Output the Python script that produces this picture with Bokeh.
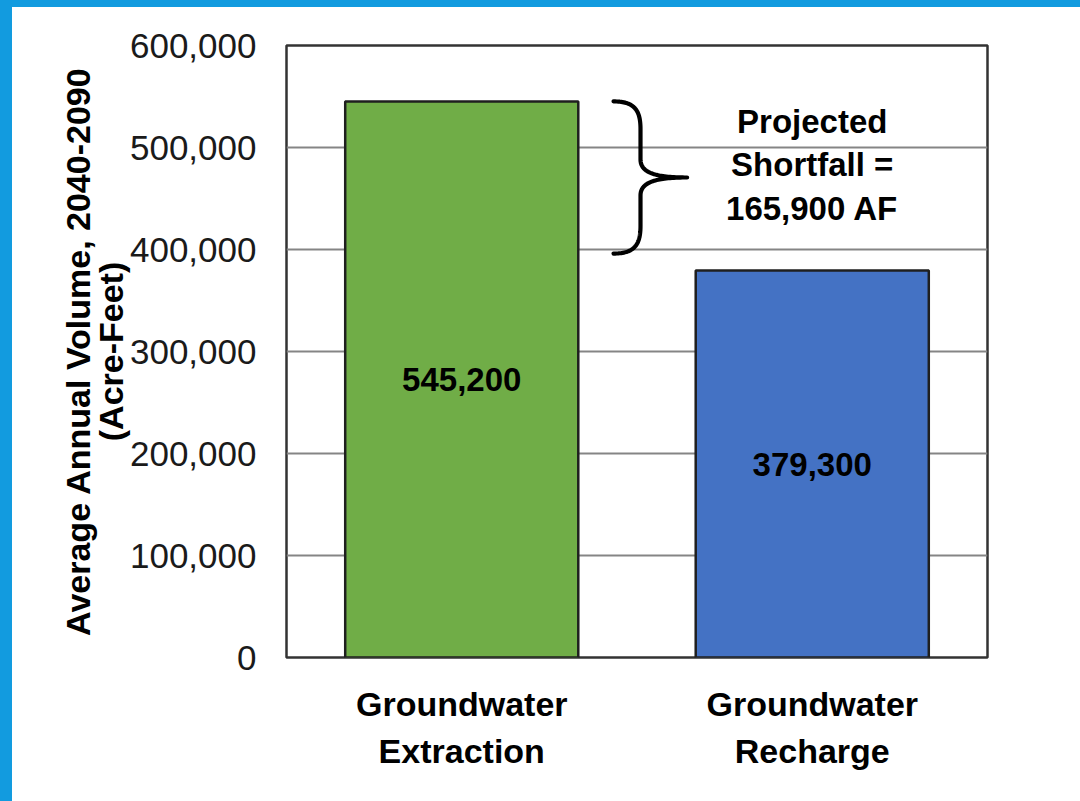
import numpy as np
from bokeh.plotting import figure
from bokeh.models import (NumeralTickFormatter, FixedTicker, Range1d, Div, ColumnDataSource,
                          CategoricalAxis, CustomJSTickFormatter)
from bokeh.layouts import column
from bokeh.core.properties import value
from bokeh.embed import file_html
from bokeh.resources import INLINE

# ---- data ----
categories = ["Groundwater Extraction", "Groundwater Recharge"]
category_line1 = ["Groundwater", "Groundwater"]
category_line2 = ["Extraction", "Recharge"]
volumes = [545200, 379300]
bar_colors = ["#70AD47", "#4472C4"]
y_ticks = [0, 100000, 200000, 300000, 400000, 500000, 600000]
shortfall = volumes[0] - volumes[1]
annotation_lines = ["Projected", "Shortfall =", f"{shortfall:,} AF"]
brace_top_value = volumes[0]
brace_bottom_value = 396000  # lower end of brace as drawn in the picture

FONT = "Liberation Sans"

p = figure(x_range=categories, y_range=Range1d(0, 600000),
           width=1072, height=793, output_backend="svg", toolbar_location=None,
           min_border_left=286, min_border_right=85, min_border_top=45, min_border_bottom=136,
           background_fill_color="white", border_fill_color="white")

src = ColumnDataSource(dict(x=categories, top=volumes, color=bar_colors,
                            label=[f"{v:,}" for v in volumes],
                            mid=[v / 2 for v in volumes]))
p.vbar(x="x", top="top", width=0.665, fill_color="color", line_color="#1f1f1f",
       line_width=2.5, source=src)
p.text(x="x", y="mid", text="label", source=src, text_font=value(FONT),
       text_font_style="bold", text_font_size="33px", text_align="center",
       text_baseline="middle", text_color="black")

# ---- brace ----
def bez(p0, p1, p2, p3, n=40):
    t = np.linspace(0, 1, n)[:, None]
    pts = ((1 - t) ** 3) * np.array(p0) + 3 * ((1 - t) ** 2) * t * np.array(p1) \
        + 3 * (1 - t) * t ** 2 * np.array(p2) + t ** 3 * np.array(p3)
    return pts

yt, yb = brace_top_value, brace_bottom_value
yc = (yt + yb) / 2
H = yt - yb
xl, xm, xt = 0.933, 1.010, 1.143
a, s, c = 0.184 * H, 0.118 * H, 0.066 * H
upper = np.vstack([
    bez((xl, yt), (xl + 0.063, yt), (xm, yt - c), (xm, yt - a)),
    bez((xm, yc + s), (xm, yc + 0.25 * s), (xm + 0.045, yc), (xt, yc)),
])
lower = upper.copy()
lower[:, 1] = 2 * yc - lower[:, 1]
brace = np.vstack([upper, lower[::-1]])
p.line(x=brace[:, 0], y=brace[:, 1], line_color="black", line_width=4.2,
       line_cap="round", line_join="round")

p.text(x=[categories[1]], y=[483000], text=["\n".join(annotation_lines)],
       text_font=value(FONT), text_font_style="bold", text_font_size="33px",
       text_align="center", text_baseline="middle", text_line_height=1.17,
       text_color="black")

# ---- axes ----
p.yaxis.ticker = FixedTicker(ticks=y_ticks)
p.yaxis.formatter = NumeralTickFormatter(format="0,0")
p.yaxis.major_label_text_font = FONT
p.yaxis.major_label_text_font_size = "35px"
p.yaxis.major_label_text_color = "#1a1a1a"
p.yaxis.major_label_standoff = 30
p.yaxis.axis_label = "Average Annual Volume, 2040-2090\n(Acre-Feet)"
p.yaxis.axis_label_text_font = FONT
p.yaxis.axis_label_text_font_style = "bold"
p.yaxis.axis_label_text_font_size = "34px"
p.yaxis.axis_label_text_color = "black"
p.yaxis.axis_label_standoff = -3
p.yaxis.axis_label_text_line_height = 0.88

ax1 = p.xaxis[0]
ax1.formatter = CustomJSTickFormatter(args=dict(cats=categories, labs=category_line1),
                                      code="return labs[cats.indexOf(tick)];")
ax1.major_label_standoff = 27
ax2 = CategoricalAxis(formatter=CustomJSTickFormatter(args=dict(cats=categories, labs=category_line2),
                                                      code="return labs[cats.indexOf(tick)];"),
                      major_label_standoff=6)
p.add_layout(ax2, "below")

for ax in (ax1, ax2):
    ax.major_label_text_font = FONT
    ax.major_label_text_font_style = "bold"
    ax.major_label_text_font_size = "34px"
    ax.major_label_text_color = "black"

for ax in (ax1, ax2, p.yaxis[0]):
    ax.axis_line_color = None
    ax.major_tick_line_color = None
    ax.minor_tick_line_color = None
    ax.major_tick_out = 0
    ax.major_tick_in = 0

p.xgrid.grid_line_color = None
p.ygrid.grid_line_color = "#858585"
p.ygrid.grid_line_width = 2
p.outline_line_color = "#333333"
p.outline_line_width = 2.5

frame_div = Div(text='<div style="position:fixed;left:0;top:0;width:12px;height:801px;background:#129BDF"></div>'
                     '<div style="position:fixed;left:0;top:0;width:1080px;height:7px;background:#129BDF"></div>',
                width=1, height=1, margin=0)

layout = column(p, frame_div)
open("out.html", "w").write(file_html(layout, INLINE))
